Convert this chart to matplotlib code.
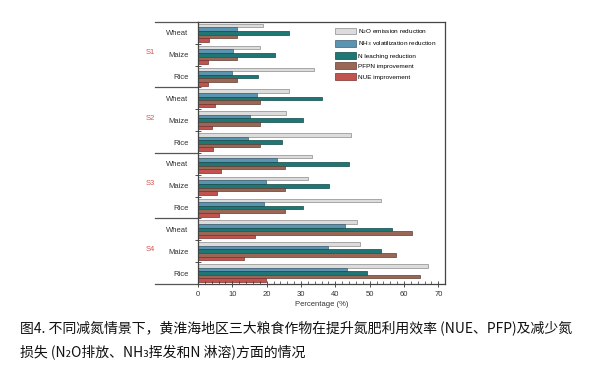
import numpy as np
import matplotlib.pyplot as plt
from matplotlib.patches import Patch
from matplotlib.ticker import MultipleLocator
import matplotlib.transforms as mtransforms

scenarios = ['S1', 'S2', 'S3', 'S4']
crops = ['Wheat', 'Maize', 'Rice']
series = ['N$_2$O emission reduction', 'NH$_3$ volatilization reduction',
          'N leaching reduction', 'PFPN improvement', 'NUE improvement']
colors = ['#dcdcdc', '#5b94b0', '#1f7775', '#9a6757', '#c25450']
edges = ['#8a8a8a', '#3d5f70', '#114845', '#5e3d33', '#7a2f2c']

# rows: S1 Wheat, S1 Maize, S1 Rice, S2 Wheat, ... S4 Rice
n2o = [19.0, 18.2, 33.7, 26.5, 25.5, 44.6, 33.1, 32.0, 53.2, 46.3, 47.1, 66.9]
nh3 = [11.4, 10.1, 9.8, 17.1, 15.1, 14.5, 23.0, 19.9, 19.1, 42.7, 37.8, 43.3]
nleach = [26.6, 22.3, 17.5, 36.0, 30.7, 24.5, 44.1, 38.1, 30.6, 56.6, 53.2, 49.2]
pfpn = [11.5, 11.5, 11.5, 18.0, 18.0, 18.0, 25.3, 25.3, 25.3, 62.4, 57.6, 64.6]
nue = [3.2, 2.8, 3.0, 4.9, 4.1, 4.5, 6.7, 5.5, 6.0, 16.7, 13.3, 19.8]
values = [n2o, nh3, nleach, pfpn, nue]

plt.rcParams['font.family'] = ['Liberation Sans', 'DejaVu Sans']

fig = plt.figure(figsize=(6, 3.77), dpi=100)
ax = fig.add_axes([0.33, 0.2467, 0.412, 0.695])

n = len(n2o)
ypos = np.arange(n)
h = 0.165
for i, vals in enumerate(values):
    ax.barh(ypos + (i - 2) * h, vals, height=h, color=colors[i],
            edgecolor=edges[i], linewidth=0.5, label=series[i])

ax.set_xlim(0, 72)
ax.set_ylim(n - 0.5, -0.5)
ax.xaxis.set_major_locator(MultipleLocator(10))
ax.xaxis.set_minor_locator(MultipleLocator(2))
ax.tick_params(axis='x', which='major', direction='inout', length=4,
               width=0.6, labelsize=5.5, pad=3, colors='#333333')
ax.tick_params(axis='x', which='minor', direction='in', length=2, width=0.5,
               color='#333333')
ax.set_xlabel('Percentage (%)', fontsize=5.5, labelpad=2, color='#333333')

ax.set_yticks(ypos)
ax.set_yticklabels(crops * len(scenarios), fontsize=5.5, color='#333333')
ax.tick_params(axis='y', which='major', length=0, pad=7)
ax.set_yticks(np.arange(0.5, n - 0.5, 1), minor=True)
ax.tick_params(axis='y', which='minor', direction='inout', length=4,
               width=0.6, color='#333333')

for s in ax.spines.values():
    s.set_color('#444444')
    s.set_linewidth(0.9)

# group separators and scenario labels outside the axes
trans = mtransforms.blended_transform_factory(ax.transAxes, ax.transData)
for k in range(len(scenarios) + 1):
    yb = k * 3 - 0.5
    ax.plot([-0.174, 0], [yb, yb], transform=trans, clip_on=False,
            color='#555555', lw=0.9)
for k, s in enumerate(scenarios):
    ax.text(-0.21, k * 3 + 0.9, s, transform=trans, fontsize=5.5,
            color='#d9534f', ha='left', va='center')

handles = [Patch(facecolor=colors[i], edgecolor=edges[i], linewidth=0.5,
                 label=series[i]) for i in range(5)]
ax.legend(handles=handles, loc='upper left', bbox_to_anchor=(0.545, 0.99),
          frameon=False, fontsize=4.6, handlelength=3.2, handleheight=1.3,
          handletextpad=0.3, labelspacing=0.55, borderaxespad=0)

cap_font = ['Noto Sans CJK SC', 'DejaVu Sans']
fig.text(0.033, 1 - 328 / 377,
         '图4. 不同减氮情景下，黄淮海地区三大粮食作物在提升氮肥利用效率 (NUE、PFP)及减少氮',
         fontsize=10, family=cap_font, va='center', color='#111111')
fig.text(0.033, 1 - 353 / 377,
         '损失 (N₂O排放、NH₃挥发和N 淋溶)方面的情况',
         fontsize=10, family=cap_font, va='center', color='#111111')

fig.savefig('out.png', dpi=100)
